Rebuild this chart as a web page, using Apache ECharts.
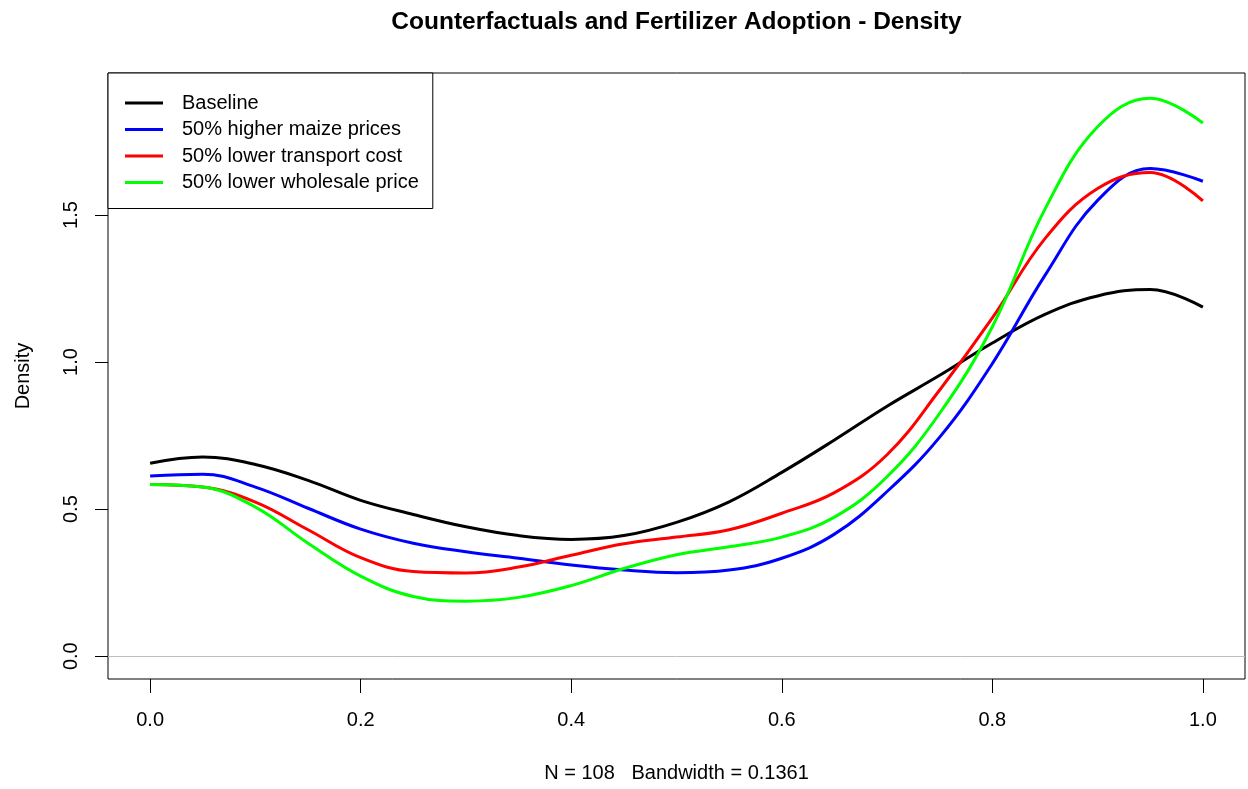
<!DOCTYPE html>
<html>
<head>
<meta charset="utf-8">
<script src="https://cdn.jsdelivr.net/npm/echarts@6/dist/echarts.min.js"></script>
<style>
html,body{margin:0;padding:0;background:#fff;}
#chart{width:1248px;height:789px;}
</style>
</head>
<body>
<div id="chart"></div>
<script>
// ---- data ----
const xs = [0, 0.05, 0.1, 0.15, 0.2, 0.25, 0.3, 0.35, 0.4, 0.45, 0.5, 0.55, 0.6, 0.65, 0.7, 0.75, 0.8, 0.85, 0.9, 0.95, 1.0];
const baseline  = [0.656, 0.677, 0.652, 0.598, 0.530, 0.482, 0.440, 0.410, 0.397, 0.410, 0.455, 0.525, 0.625, 0.735, 0.850, 0.955, 1.065, 1.162, 1.225, 1.247, 1.187];
const maize     = [0.613, 0.619, 0.575, 0.503, 0.432, 0.384, 0.355, 0.333, 0.310, 0.293, 0.284, 0.293, 0.333, 0.415, 0.560, 0.745, 0.995, 1.295, 1.550, 1.658, 1.615];
const transport = [0.584, 0.575, 0.524, 0.430, 0.335, 0.288, 0.283, 0.303, 0.343, 0.382, 0.405, 0.430, 0.486, 0.556, 0.685, 0.905, 1.150, 1.420, 1.590, 1.645, 1.548];
const wholesale = [0.584, 0.575, 0.507, 0.384, 0.272, 0.203, 0.187, 0.200, 0.240, 0.298, 0.345, 0.372, 0.405, 0.473, 0.610, 0.826, 1.120, 1.520, 1.800, 1.897, 1.813];
const seriesNames = ['Baseline', '50% higher maize prices', '50% lower transport cost', '50% lower wholesale price'];
const seriesColors = ['#000000', '#0000ff', '#ff0000', '#00ff00'];
const xTicks = [0, 0.2, 0.4, 0.6, 0.8, 1.0];
const yTicks = [0, 0.5, 1.0, 1.5];
const titleText = 'Counterfactuals and Fertilizer Adoption - Density';
const xLabel = 'N = 108   Bandwidth = 0.1361';
const yLabel = 'Density';

const allSeries = [baseline, maize, transport, wholesale];
const FONT = '"Liberation Sans", Arial, Helvetica, sans-serif';

const chart = echarts.init(document.getElementById('chart'), null, {renderer: 'canvas'});

const series = allSeries.map((vals, i) => ({
  name: seriesNames[i],
  type: 'line',
  data: xs.map((x, k) => [x, vals[k]]),
  smooth: 0.4,
  showSymbol: false,
  symbol: 'none',
  lineStyle: {color: seriesColors[i], width: 3},
  itemStyle: {color: seriesColors[i]},
  z: 3 + i,
  animation: false,
  markLine: i === 0 ? {
    silent: true,
    symbol: ['none', 'none'],
    label: {show: false},
    lineStyle: {color: '#bebebe', width: 1, type: 'solid'},
    data: [{yAxis: 0}],
    animation: false,
    z: 1
  } : undefined
}));

const option = {
  backgroundColor: '#ffffff',
  animation: false,
  textStyle: {fontFamily: FONT},
  grid: {
    left: 108, right: 3, top: 73, bottom: 110,
    show: true, borderColor: '#000', borderWidth: 1, backgroundColor: 'transparent'
  },
  graphic: [
    {type: 'text', x: 676.5, y: 22, style: {text: titleText, font: 'bold 24.5px ' + FONT, fill: '#000', textAlign: 'center', textVerticalAlign: 'middle'}},
    {type: 'text', x: 676.5, y: 773, style: {text: xLabel, font: '20px ' + FONT, fill: '#000', textAlign: 'center', textVerticalAlign: 'middle'}},
    {type: 'text', x: 23, y: 376, rotation: Math.PI / 2, style: {text: yLabel, font: '20px ' + FONT, fill: '#000', textAlign: 'center', textVerticalAlign: 'middle'}}
  ],
  legend: {
    orient: 'vertical',
    left: 108, top: 73,
    data: seriesNames.map((n, i) => ({name: n, icon: 'rect', itemStyle: {color: seriesColors[i]}})),
    itemWidth: 38, itemHeight: 3,
    itemGap: 0.5,
    padding: [17, 14, 13, 17],
    borderColor: '#000', borderWidth: 1,
    backgroundColor: '#fff',
    selectedMode: false,
    formatter: name => '{t|' + name + '}',
    textStyle: {
      fontSize: 20, color: '#000', fontFamily: FONT, lineHeight: 26,
      rich: {t: {fontSize: 20, color: '#000', fontFamily: FONT, lineHeight: 26, padding: [0, 0, 0, 14]}}
    }
  },
  xAxis: {
    type: 'value', min: -0.04, max: 1.04,
    axisLine: {show: false, onZero: false},
    splitLine: {show: false},
    axisTick: {show: true, inside: false, length: 14, lineStyle: {color: '#000', width: 1}, customValues: xTicks},
    axisLabel: {show: true, margin: 31, fontSize: 20, color: '#000', fontFamily: FONT, customValues: xTicks,
      formatter: v => v.toFixed(1)}
  },
  yAxis: {
    type: 'value', min: -0.0776, max: 1.983,
    axisLine: {show: false, onZero: false},
    splitLine: {show: false},
    axisTick: {show: true, inside: false, length: 13, lineStyle: {color: '#000', width: 1}, customValues: yTicks},
    axisLabel: {show: true, rotate: 90, margin: 27, fontSize: 20, color: '#000', fontFamily: FONT, customValues: yTicks,
      formatter: v => v.toFixed(1)}
  },
  series: series
};

chart.setOption(option);
</script>
</body>
</html>
